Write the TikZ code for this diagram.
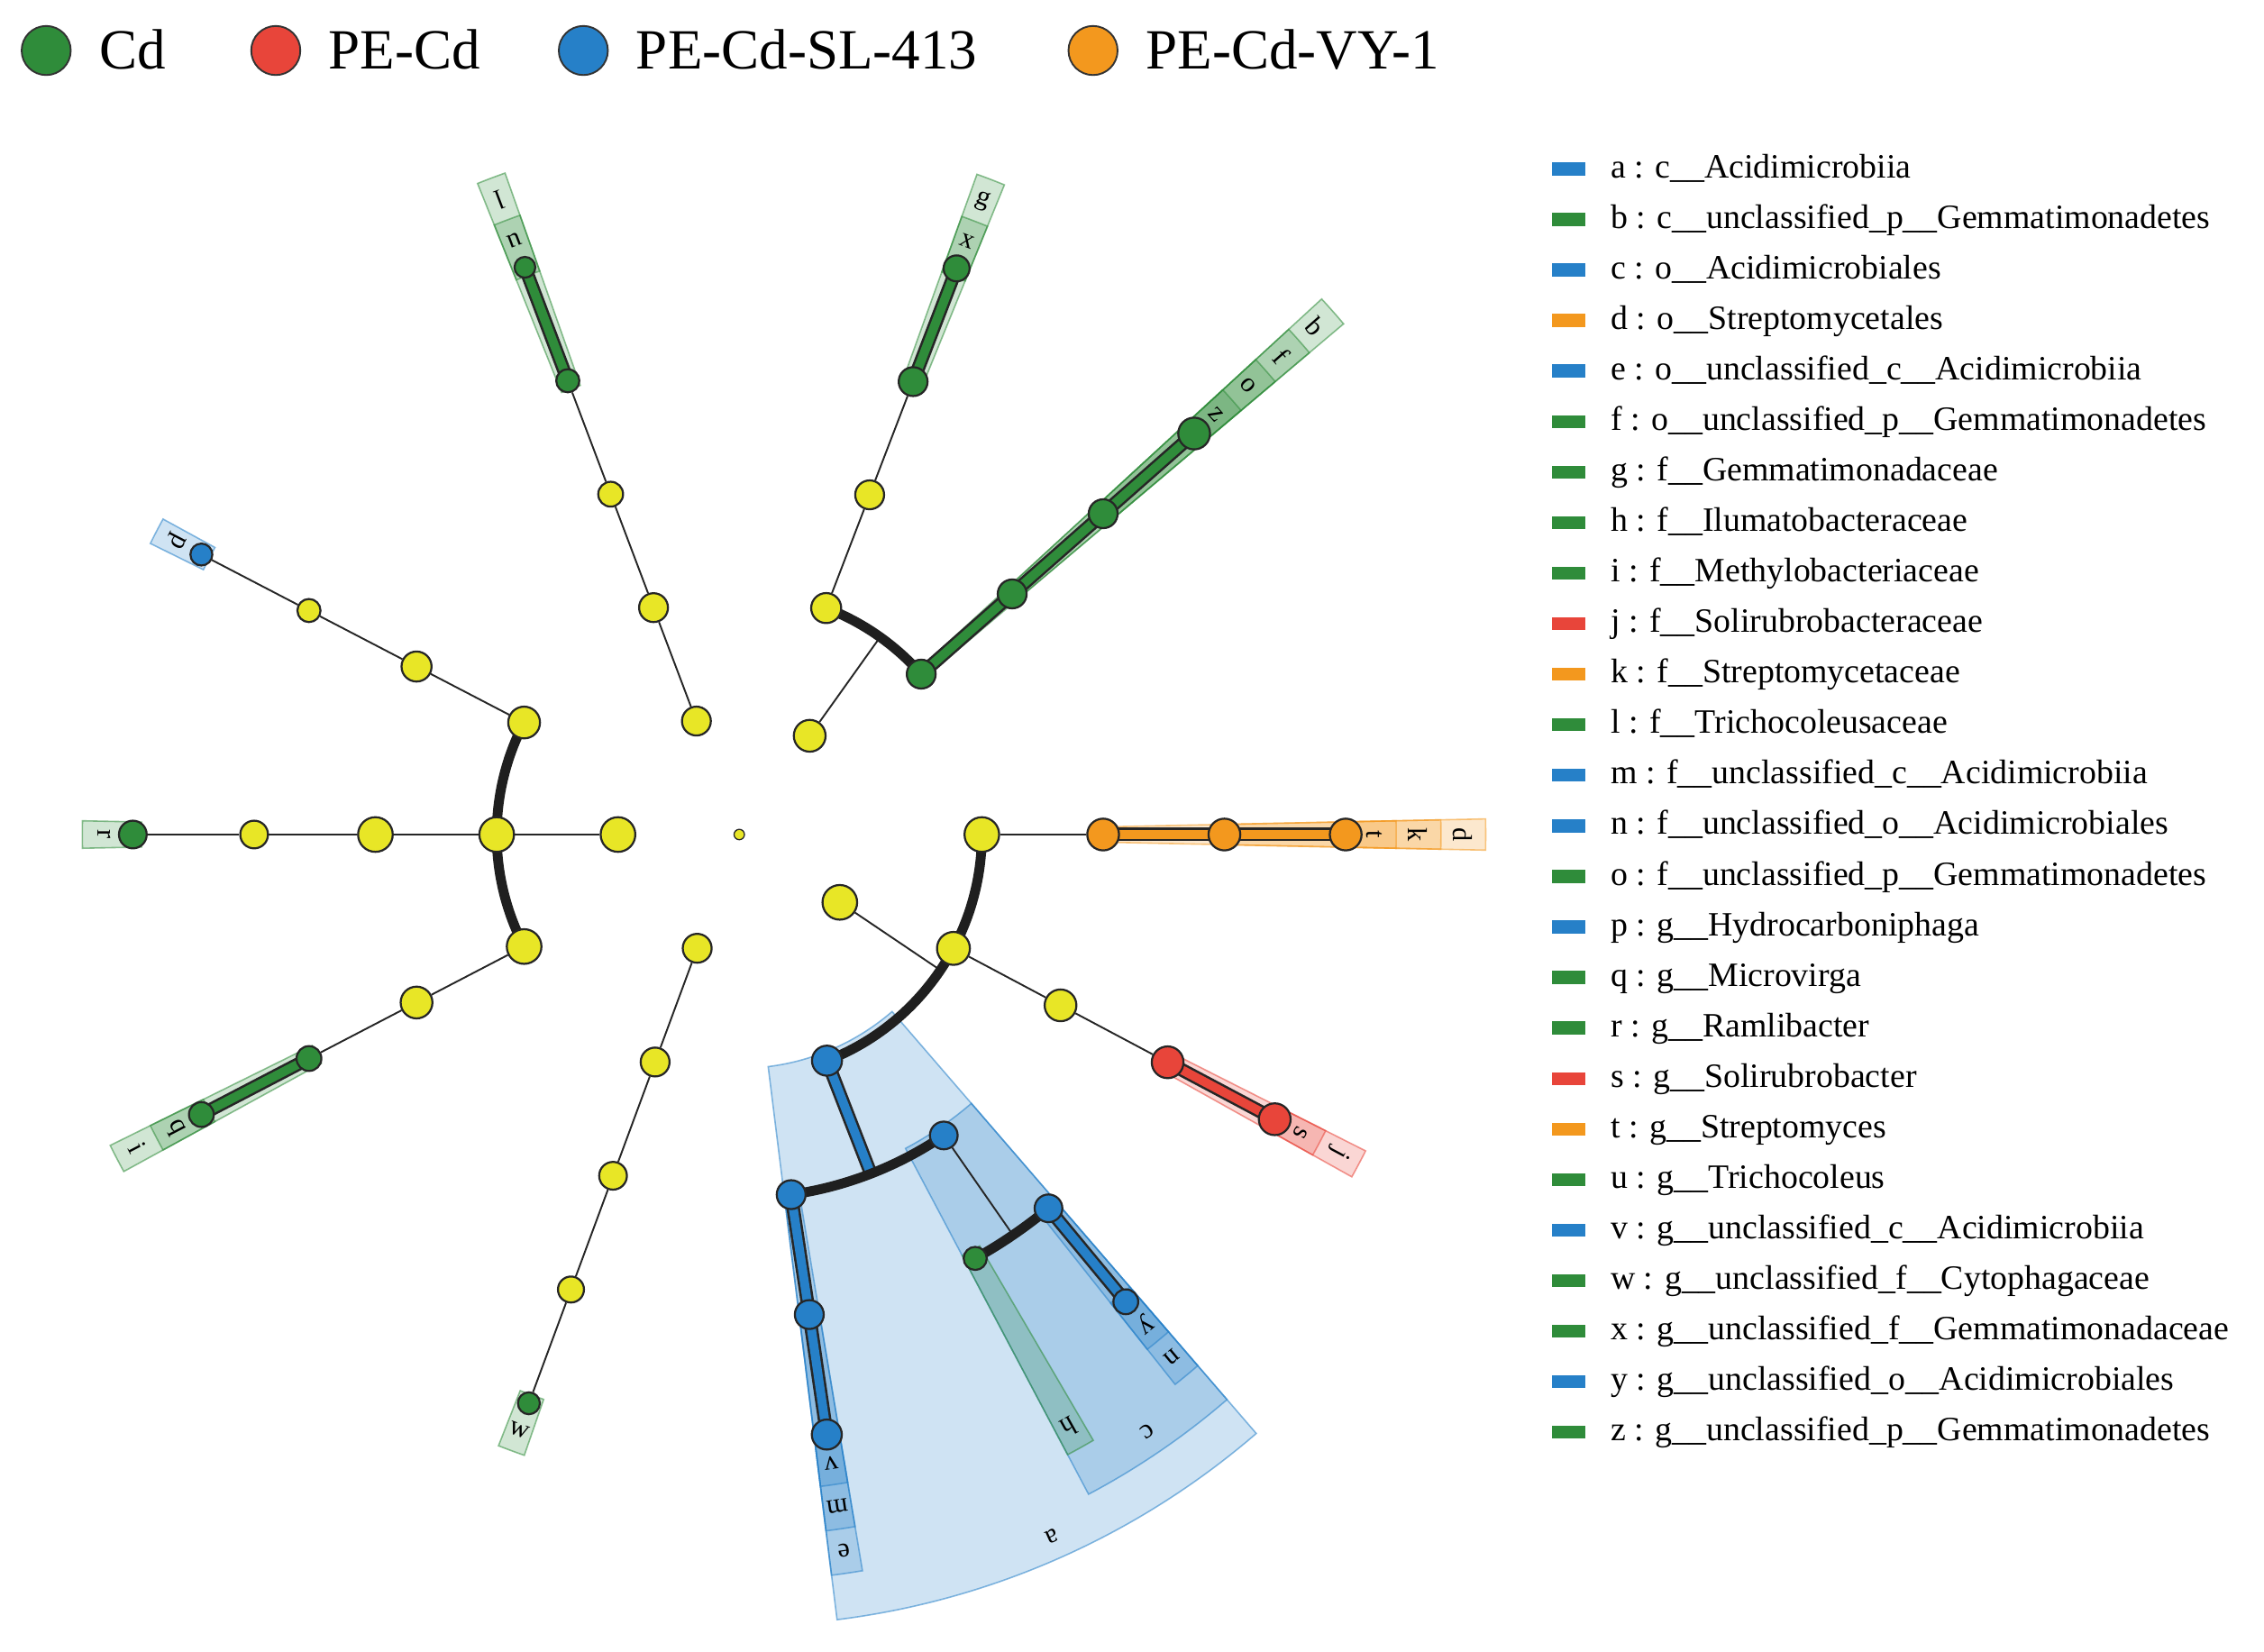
\documentclass[tikz,border=0pt]{standalone}
\usepackage{fontspec}
\setmainfont{Liberation Serif}
\usepackage{tikz}
\usetikzlibrary{positioning}

\definecolor{cdgreen}{RGB}{47,140,58}
\definecolor{pered}{RGB}{232,69,58}
\definecolor{slblue}{RGB}{38,128,200}
\definecolor{vyorange}{RGB}{243,152,30}
\definecolor{nodeyel}{RGB}{232,230,38}

\pgfdeclarelayer{back}
\pgfdeclarelayer{mid}
\pgfsetlayers{back,mid,main}

\tikzset{
  tn/.style={circle, draw=black!85, line width=0.35mm, inner sep=0pt},
  twig/.style={line width=0.3mm, black!85},
  fork/.style={line width=1.7mm, black!88},
  bar/.style={line width=0.4mm, black!85, double=#1, double distance=1.55mm},
  hl/.style={fill=#1, fill opacity=0.22, draw=#1, draw opacity=0.55, line width=0.25mm},
  celltext/.style={font=\fontsize{13.5}{13.5}\selectfont, inner sep=0pt},
  legbar/.style={rectangle, minimum width=5.75mm, minimum height=2.25mm, inner sep=0pt},
  legtext/.style={font=\fontsize{16.8}{20}\selectfont, inner sep=0pt, text height=4.2mm, text depth=1.2mm},
  keydot/.style={circle, draw=black!80, line width=0.3mm, minimum size=8.5mm, inner sep=0pt},
  keytext/.style={font=\fontsize{28}{30}\selectfont, inner sep=0pt, text height=8mm, text depth=1.5mm}
}

\newcommand{\tnode}[5]{\node[tn, fill=#4, minimum size=#5mm] (#1) at ({#2}:#3) {};}
\newcommand{\cladeband}[5]{\filldraw[hl=#5] ({#1}:#3) arc[start angle={#1}, end angle={#2}, radius=#3] -- ({#2}:#4) arc[start angle={#2}, end angle={#1}, radius=#4] -- cycle;}
\newcommand{\celltag}[4]{%
  \pgfmathsetmacro{\cellrot}{cos(#2)>0 ? #2-90 : #2+90}%
  \node[celltext, rotate=\cellrot] (#1) at ({#2}:#3) {#4};}

\begin{document}
\begin{tikzpicture}[x=0.25mm, y=0.25mm]
  \useasboundingbox (0,0) rectangle (1568,1144);

  \node[keydot, fill=cdgreen] (KeyCd) at (32,1109) {};
  \node[keytext, right=4.7mm of KeyCd] (KeyCdText) {Cd};
  \node[keydot, fill=pered] (KeyPE) at (191,1109) {};
  \node[keytext, right=4.7mm of KeyPE] (KeyPEText) {PE-Cd};
  \node[keydot, fill=slblue] (KeySL) at (404,1109) {};
  \node[keytext, right=4.7mm of KeySL] (KeySLText) {PE-Cd-SL-413};
  \node[keydot, fill=vyorange] (KeyVY) at (757,1109) {};
  \node[keytext, right=4.7mm of KeyVY] (KeyVYText) {PE-Cd-VY-1};

  \begin{scope}[shift={(512,566)}]
    % clade shading
    \begin{pgfonlayer}{back}
      \cladeband{-82.9}{-49.2}{162}{548}{slblue}
      \cladeband{-62.1}{-49.2}{246}{517}{slblue}
      \cladeband{-62.1}{-59.7}{330}{486}{cdgreen}
      \cladeband{-51.6}{-49.2}{330}{486}{slblue}
      \cladeband{-51.6}{-49.2}{414}{455}{slblue}
      \cladeband{-82.9}{-80.5}{246}{517}{slblue}
      \cladeband{-82.9}{-80.5}{330}{486}{slblue}
      \cladeband{-82.9}{-80.5}{414}{455}{slblue}
      \cladeband{151.3}{153.7}{414}{455}{slblue}
      \cladeband{178.8}{181.2}{414}{455}{cdgreen}
      \cladeband{206.3}{208.7}{330}{486}{cdgreen}
      \cladeband{206.3}{208.7}{414}{455}{cdgreen}
      \cladeband{109.5}{111.9}{330}{486}{cdgreen}
      \cladeband{109.5}{111.9}{414}{455}{cdgreen}
      \cladeband{67.8}{70.2}{330}{486}{cdgreen}
      \cladeband{67.8}{70.2}{414}{455}{cdgreen}
      \cladeband{40.2}{42.6}{162}{548}{cdgreen}
      \cladeband{40.2}{42.6}{246}{517}{cdgreen}
      \cladeband{40.2}{42.6}{330}{486}{cdgreen}
      \cladeband{40.2}{42.6}{414}{455}{cdgreen}
      \cladeband{-1.2}{1.2}{246}{517}{vyorange}
      \cladeband{-1.2}{1.2}{330}{486}{vyorange}
      \cladeband{-1.2}{1.2}{414}{455}{vyorange}
      \cladeband{-29.2}{-26.8}{330}{486}{pered}
      \cladeband{-29.2}{-26.8}{414}{455}{pered}
      \cladeband{-111.5}{-109.1}{414}{455}{cdgreen}
    \end{pgfonlayer}

    \node[tn, fill=nodeyel, minimum size=1.8mm, line width=0.2mm] (Root) at (0,0) {};

    \tnode{P1}{180}{84}{nodeyel}{6}
    \tnode{P2}{110.7}{84}{nodeyel}{5}
    \tnode{P3}{54.5}{84}{nodeyel}{5.5}
    \tnode{P4}{-34}{84}{nodeyel}{6}
    \tnode{P5}{-110.3}{84}{nodeyel}{5}

    \tnode{C1}{152.5}{168}{nodeyel}{5.5}
    \tnode{C2}{180}{168}{nodeyel}{6}
    \tnode{C3}{207.5}{168}{nodeyel}{6}
    \tnode{C4}{110.7}{168}{nodeyel}{5}
    \tnode{C5}{69}{168}{nodeyel}{5.2}
    \tnode{C6}{41.4}{168}{cdgreen}{5}
    \tnode{C7}{0}{168}{nodeyel}{6}
    \tnode{C8}{-28}{168}{nodeyel}{5.7}
    \tnode{C9}{-68.8}{168}{slblue}{5.2}
    \tnode{C10}{-110.3}{168}{nodeyel}{5}

    \tnode{O1}{152.5}{252}{nodeyel}{5.2}
    \tnode{O2}{180}{252}{nodeyel}{6}
    \tnode{O3}{207.5}{252}{nodeyel}{5.5}
    \tnode{O4}{110.7}{252}{nodeyel}{4.3}
    \tnode{O5}{69}{252}{nodeyel}{5}
    \tnode{O6}{41.4}{252}{cdgreen}{5}
    \tnode{O7}{0}{252}{vyorange}{5.5}
    \tnode{O8}{-28}{252}{nodeyel}{5.5}
    \tnode{O9}{-81.8}{252}{slblue}{5}
    \tnode{O10}{-55.8}{252}{slblue}{4.8}
    \tnode{O11}{-110.3}{252}{nodeyel}{4.8}

    \tnode{F1}{152.5}{336}{nodeyel}{4}
    \tnode{F2}{180}{336}{nodeyel}{4.8}
    \tnode{F3}{207.5}{336}{cdgreen}{4.3}
    \tnode{F4}{110.7}{336}{cdgreen}{4}
    \tnode{F5}{69}{336}{cdgreen}{5}
    \tnode{F6}{41.4}{336}{cdgreen}{5}
    \tnode{F7}{0}{336}{vyorange}{5.5}
    \tnode{F8}{-28}{336}{pered}{5.5}
    \tnode{F9}{-81.7}{336}{slblue}{5}
    \tnode{F10}{-60.9}{336}{cdgreen}{4}
    \tnode{F11}{-50.4}{336}{slblue}{4.8}
    \tnode{F12}{-110.3}{336}{nodeyel}{4.5}

    \tnode{G1}{152.5}{420}{slblue}{3.8}
    \tnode{G2}{180}{420}{cdgreen}{4.8}
    \tnode{G3}{207.5}{420}{cdgreen}{4.3}
    \tnode{G4}{110.7}{420}{cdgreen}{3.6}
    \tnode{G5}{69}{420}{cdgreen}{4.5}
    \tnode{G6}{41.4}{420}{cdgreen}{5.5}
    \tnode{G7}{0}{420}{vyorange}{5.5}
    \tnode{G8}{-28}{420}{pered}{5.5}
    \tnode{G9}{-81.7}{420}{slblue}{5.2}
    \tnode{G11}{-50.4}{420}{slblue}{4.3}
    \tnode{G12}{-110.3}{420}{cdgreen}{3.8}

    \coordinate (J3) at (54.5:168);
    \coordinate (J4) at (-34:168);
    \coordinate (Ja) at (-68.8:252);
    \coordinate (Jc) at (-55.65:336);

    \begin{pgfonlayer}{mid}
      \draw[twig] (P1) -- (C2);
      \draw[twig] (P2) -- (C4);
      \draw[twig] (P3) -- (J3);
      \draw[twig] (P4) -- (J4);
      \draw[twig] (P5) -- (C10);
      \draw[twig] (C1) -- (O1) -- (F1) -- (G1);
      \draw[twig] (C2) -- (O2) -- (F2) -- (G2);
      \draw[twig] (C3) -- (O3) -- (F3);
      \draw[twig] (C4) -- (O4) -- (F4);
      \draw[twig] (C5) -- (O5) -- (F5);
      \draw[twig] (C7) -- (O7);
      \draw[twig] (C8) -- (O8) -- (F8);
      \draw[twig] (O10) -- (Jc);
      \draw[twig] (C10) -- (O11) -- (F12) -- (G12);

      \draw[bar=cdgreen] (F3.center) -- (G3.center);
      \draw[bar=cdgreen] (F4.center) -- (G4.center);
      \draw[bar=cdgreen] (F5.center) -- (G5.center);
      \draw[bar=cdgreen] (C6.center) -- (O6.center) -- (F6.center) -- (G6.center);
      \draw[bar=vyorange] (O7.center) -- (F7.center) -- (G7.center);
      \draw[bar=pered] (F8.center) -- (G8.center);
      \draw[bar=slblue] (C9.center) -- (Ja);
      \draw[bar=slblue] (O9.center) -- (F9.center) -- (G9.center);
      \draw[bar=slblue] (F11.center) -- (G11.center);

      \draw[fork] (C1.center) arc[start angle=152.5, end angle=207.5, radius=168];
      \draw[fork] (C6.center) arc[start angle=41.4, end angle=69, radius=168];
      \draw[fork] (C9.center) arc[start angle=-68.8, end angle=0, radius=168];
      \draw[fork] (O9.center) arc[start angle=-81.8, end angle=-55.8, radius=252];
      \draw[fork] (F10.center) arc[start angle=-60.9, end angle=-50.4, radius=336];
    \end{pgfonlayer}

    \celltag{Lp}{152.5}{440}{p}
    \celltag{Lr}{180}{440}{r}
    \celltag{Lq}{207.5}{440}{q}
    \celltag{Li}{207.5}{470}{i}
    \celltag{Lu}{110.7}{440}{u}
    \celltag{Ll}{110.7}{470}{l}
    \celltag{Lx}{69}{440}{x}
    \celltag{Lg}{69}{470}{g}
    \celltag{Lz}{41.4}{440}{z}
    \celltag{Lo}{41.4}{470}{o}
    \celltag{Lf}{41.4}{501}{f}
    \celltag{Lb}{41.4}{532}{b}
    \celltag{Lt}{0}{440}{t}
    \celltag{Lk}{0}{470}{k}
    \celltag{Ld}{0}{501}{d}
    \celltag{Ls}{-28}{440}{s}
    \celltag{Lj}{-28}{470}{j}
    \celltag{Lv}{-81.7}{440}{v}
    \celltag{Lm}{-81.7}{470}{m}
    \celltag{Le}{-81.7}{501}{e}
    \celltag{Lh}{-60.9}{470}{h}
    \celltag{Ly}{-50.4}{440}{y}
    \celltag{Ln}{-50.4}{470}{n}
    \celltag{Lc}{-55.65}{501}{c}
    \celltag{La}{-66}{532}{a}
    \celltag{Lw}{-110.3}{440}{w}
  \end{scope}

  \foreach \col/\txt [count=\i] in {
    slblue/a : c\_\_Acidimicrobiia,
    cdgreen/b : c\_\_unclassified\_p\_\_Gemmatimonadetes,
    slblue/c : o\_\_Acidimicrobiales,
    vyorange/d : o\_\_Streptomycetales,
    slblue/e : o\_\_unclassified\_c\_\_Acidimicrobiia,
    cdgreen/f : o\_\_unclassified\_p\_\_Gemmatimonadetes,
    cdgreen/g : f\_\_Gemmatimonadaceae,
    cdgreen/h : f\_\_Ilumatobacteraceae,
    cdgreen/i : f\_\_Methylobacteriaceae,
    pered/j : f\_\_Solirubrobacteraceae,
    vyorange/k : f\_\_Streptomycetaceae,
    cdgreen/l : f\_\_Trichocoleusaceae,
    slblue/m : f\_\_unclassified\_c\_\_Acidimicrobiia,
    slblue/n : f\_\_unclassified\_o\_\_Acidimicrobiales,
    cdgreen/o : f\_\_unclassified\_p\_\_Gemmatimonadetes,
    slblue/p : g\_\_Hydrocarboniphaga,
    cdgreen/q : g\_\_Microvirga,
    cdgreen/r : g\_\_Ramlibacter,
    pered/s : g\_\_Solirubrobacter,
    vyorange/t : g\_\_Streptomyces,
    cdgreen/u : g\_\_Trichocoleus,
    slblue/v : g\_\_unclassified\_c\_\_Acidimicrobiia,
    cdgreen/w : g\_\_unclassified\_f\_\_Cytophagaceae,
    cdgreen/x : g\_\_unclassified\_f\_\_Gemmatimonadaceae,
    slblue/y : g\_\_unclassified\_o\_\_Acidimicrobiales,
    cdgreen/z : g\_\_unclassified\_p\_\_Gemmatimonadetes} {
    \node[legbar, fill=\col] (Bar\i) at (1086.5, {1027-35*(\i-1)}) {};
    \node[legtext, right=4.25mm of Bar\i] (Tag\i) {\txt};
  }
\end{tikzpicture}
\end{document}
